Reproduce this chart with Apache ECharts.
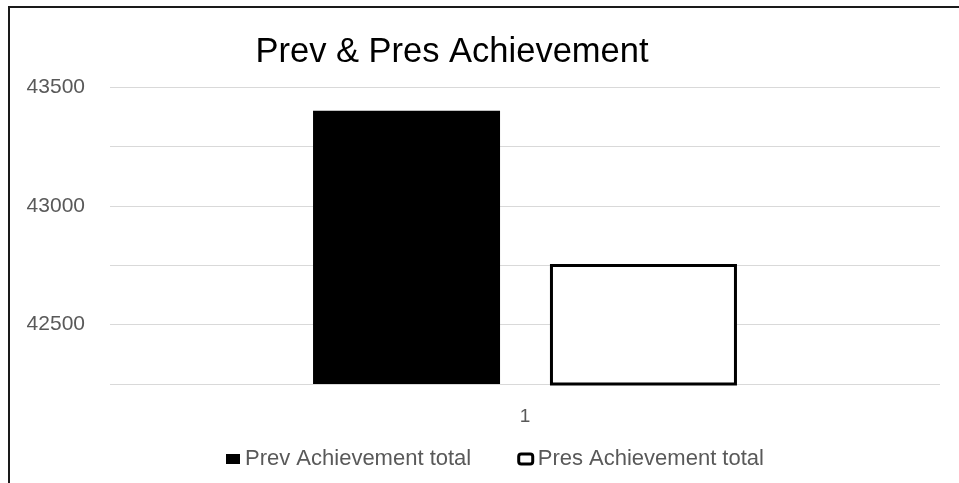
<!DOCTYPE html>
<html>
<head>
<meta charset="utf-8">
<script src="https://cdn.jsdelivr.net/npm/echarts@6/dist/echarts.min.js"></script>
<style>
  html, body { margin: 0; padding: 0; background: #fff; }
  #chart { width: 959px; height: 483px; }
</style>
</head>
<body>
<div id="chart"></div>
<script>
// chart data
const categories = ["1"];
const seriesNames = ["Prev Achievement total", "Pres Achievement total"];
const prevValues = [43400];
const presValues = [42755];
const yTicks = { min: 42250, max: 43500, step: 250, labelEvery: 500 };

const chart = echarts.init(document.getElementById("chart"), null, { renderer: "canvas" });

const labelColor = "#595959";

const option = {
  backgroundColor: "#ffffff",
  animation: false,
  title: {
    text: "Prev & Pres Achievement",
    left: 452,
    top: 35,
    padding: 0,
    textAlign: "center",
    textStyle: {
      fontFamily: "'Liberation Sans', sans-serif",
      fontSize: 34.5,
      fontWeight: "normal",
      color: "#000000",
    },
  },
  legend: {
    left: 226,
    top: 448,
    padding: 0,
    itemWidth: 14,
    itemHeight: 10,
    itemGap: 46,
    textStyle: {
      fontFamily: "'Liberation Sans', sans-serif",
      fontSize: 22,
      color: labelColor,
    },
    data: [
      { name: seriesNames[0], icon: "rect", itemStyle: { color: "#000", borderWidth: 0 } },
      { name: seriesNames[1], icon: "roundRect", itemStyle: { color: "#fff", borderColor: "#000", borderWidth: 3 } },
    ],
  },
  grid: { left: 110, right: 19, top: 87, bottom: 99 },
  xAxis: {
    type: "category",
    data: categories,
    axisLine: { show: false },
    axisTick: { show: false },
    axisLabel: {
      color: labelColor,
      fontFamily: "'Liberation Sans', sans-serif",
      fontSize: 19,
      margin: 23,
    },
  },
  yAxis: {
    type: "value",
    min: yTicks.min,
    max: yTicks.max,
    interval: yTicks.step,
    axisLine: { show: false },
    axisTick: { show: false },
    axisLabel: {
      color: labelColor,
      fontFamily: "'Liberation Sans', sans-serif",
      fontSize: 21,
      margin: 25,
      formatter: (v) => (v % yTicks.labelEvery === 0 && v !== yTicks.min ? String(v) : ""),
    },
    splitLine: { show: true, lineStyle: { color: "#d9d9d9", width: 1 } },
  },
  series: [
    {
      name: seriesNames[0],
      type: "bar",
      data: prevValues,
      barWidth: 187,
      barGap: "26.7%",
      itemStyle: { color: "#000000" },
    },
    {
      name: seriesNames[1],
      type: "bar",
      data: presValues,
      barWidth: 187,
      itemStyle: { color: "#ffffff", borderColor: "#000000", borderWidth: 3 },
    },
  ],
  graphic: [
    {
      type: "rect",
      silent: true,
      shape: { x: 9, y: 7, width: 1000, height: 600 },
      style: { fill: "none", stroke: "#1a1a1a", lineWidth: 2 },
      z: 100,
    },
  ],
};

chart.setOption(option);
</script>
</body>
</html>
